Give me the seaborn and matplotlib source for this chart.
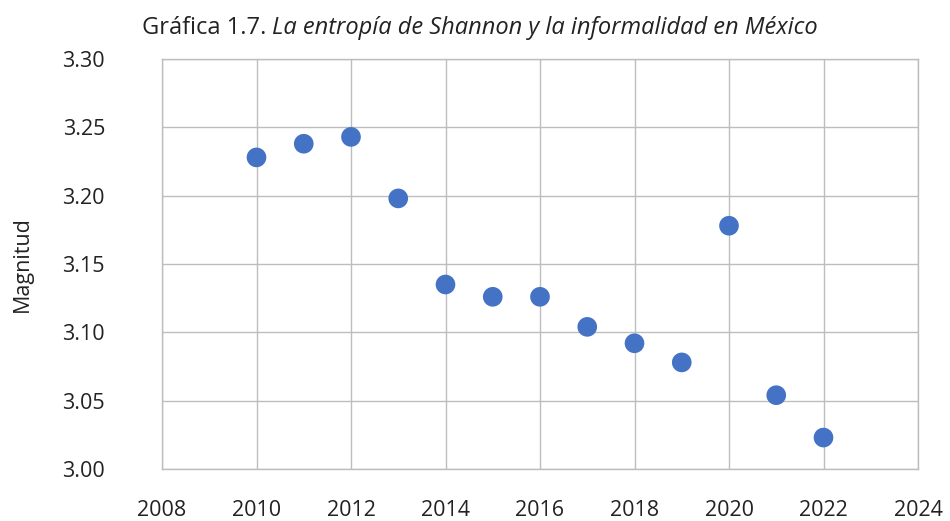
import matplotlib
matplotlib.use("Agg")
import matplotlib.pyplot as plt
import seaborn as sns
import pandas as pd

years = [2010, 2011, 2012, 2013, 2014, 2015, 2016, 2017, 2018, 2019, 2020, 2021, 2022]
entropy = [3.228, 3.238, 3.243, 3.198, 3.135, 3.126, 3.126, 3.104, 3.092, 3.078, 3.178, 3.054, 3.023]
x_ticks = [2008, 2010, 2012, 2014, 2016, 2018, 2020, 2022, 2024]
y_ticks = [3.00, 3.05, 3.10, 3.15, 3.20, 3.25, 3.30]
title_plain = "Gráfica 1.7."
title_italic = "La entropía de Shannon y la informalidad en México"
y_label = "Magnitud"

sns.set_style("white")
plt.rcParams['font.family'] = ['Open Sans', 'DejaVu Sans']

df = pd.DataFrame({"year": years, "value": entropy})

fig = plt.figure(figsize=(9.5, 5.21), dpi=100)
ax = fig.add_axes([162/950, 1 - 469/521, (918 - 162)/950, (469 - 59)/521])

sns.scatterplot(data=df, x="year", y="value", ax=ax, s=200, color="#4472C4",
                edgecolor="none", zorder=3, legend=False)

ax.set_xlim(2008, 2024)
ax.set_ylim(3.00, 3.30)
ax.set_xticks(x_ticks)
ax.set_yticks(y_ticks)
ax.set_xticklabels([str(t) for t in x_ticks])
ax.set_yticklabels([f"{t:.2f}" for t in y_ticks])
ax.grid(True, color="#BDBDBD", linewidth=1.0)
ax.set_axisbelow(True)
for s in ax.spines.values():
    s.set_visible(True)
    s.set_color("#BDBDBD")
    s.set_linewidth(1.0)
ax.tick_params(axis="both", length=0, labelsize=15.5, colors="#222222")
ax.tick_params(axis="y", pad=41)
ax.tick_params(axis="x", pad=22)
ax.set_xlabel("")
ax.set_ylabel(y_label, fontsize=15.5, color="#222222")
ax.yaxis.set_label_coords((33 - 162)/756, 0.5)

t1 = fig.text(142/950, 1 - 28/521, title_plain + " ", fontsize=17, color="#222222",
              ha="left", va="center")
fig.canvas.draw()
bb = t1.get_window_extent()
fig.text(bb.x1/950, 1 - 28/521, title_italic, fontsize=17, style="italic",
         color="#222222", ha="left", va="center")

fig.savefig("out.png", dpi=100)
